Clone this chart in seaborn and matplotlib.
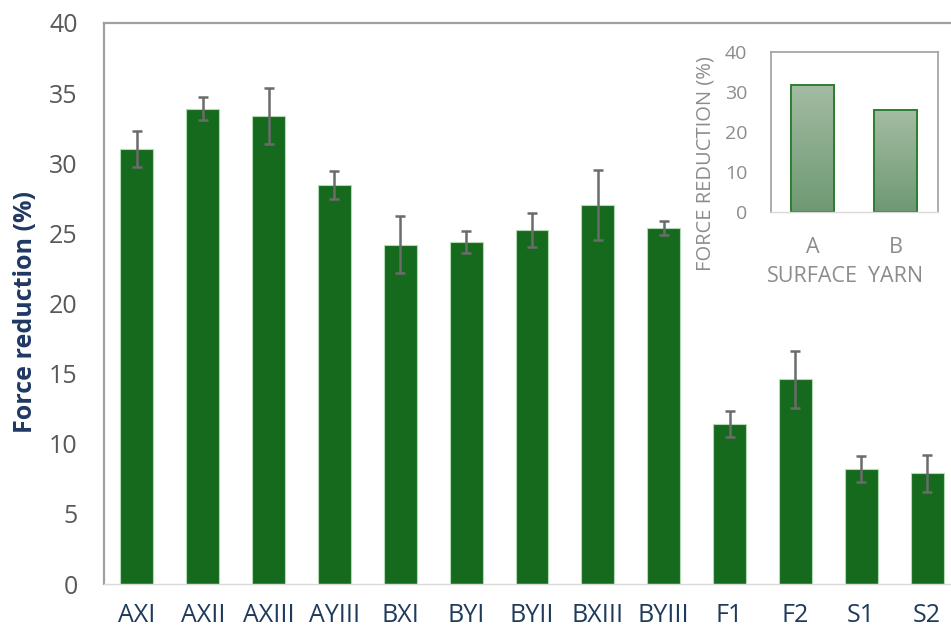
import numpy as np
import pandas as pd
import matplotlib
matplotlib.use("Agg")
import matplotlib.pyplot as plt
import seaborn as sns

# Force reduction per sample (mean and error)
samples = ["AXI", "AXII", "AXIII", "AYIII", "BXI", "BYI", "BYII", "BXIII", "BYIII",
           "F1", "F2", "S1", "S2"]
reduction = [31.0, 33.9, 33.4, 28.45, 24.2, 24.4, 25.25, 27.0, 25.4,
             11.4, 14.6, 8.2, 7.9]
reduction_err = [1.3, 0.85, 2.0, 1.0, 2.05, 0.8, 1.2, 2.5, 0.5,
                 0.92, 2.04, 0.96, 1.33]

# Group averages for the inset
groups = ["A\nSURFACE", "B\nYARN"]
group_reduction = [31.8, 25.4]

main_ticks = [0, 5, 10, 15, 20, 25, 30, 35, 40]
inset_ticks = [0, 10, 20, 30, 40]

sns.set_theme(style="white")
plt.rcParams["font.family"] = ["Open Sans", "DejaVu Sans"]

fig = plt.figure(figsize=(9.51, 6.32), dpi=100)
fig.patch.set_facecolor("white")

ax = fig.add_axes([104 / 951, 1 - 584 / 632, (960 - 104) / 951, (584 - 23) / 632])
df = pd.DataFrame({"sample": samples, "reduction": reduction})
sns.barplot(data=df, x="sample", y="reduction", color="#156a1e", saturation=1,
            width=0.5, errorbar=None, edgecolor="#b5d9b5", linewidth=0.8, ax=ax)
ax.errorbar(np.arange(len(samples)), reduction, yerr=reduction_err, fmt="none",
            ecolor="#6b6b6b", elinewidth=1.8, capsize=3.6, capthick=1.8, zorder=5)

ax.set_xlim(-0.5, len(samples) - 0.5)
ax.set_ylim(0, 40)
ax.set_yticks(main_ticks)
ax.set_yticklabels([str(t) for t in main_ticks])
ax.set_xlabel("")
ax.set_ylabel("Force reduction (%)", fontsize=18, fontweight="bold", color="#1f3864")
ax.yaxis.set_label_coords(-0.077, 0.485)
ax.tick_params(axis="y", length=0, pad=19, labelsize=18, labelcolor="#595959")
ax.tick_params(axis="x", length=0, pad=14, labelsize=18, labelcolor="#1f3a5c")
for side in ["left", "top"]:
    ax.spines[side].set_color("#a0a0a0")
    ax.spines[side].set_linewidth(1.6)
ax.spines["bottom"].set_color("#d9d9d9")
ax.spines["bottom"].set_linewidth(1.0)
ax.spines["right"].set_visible(False)

# Inset: averages by group
ins = fig.add_axes([770.7 / 951, 1 - 211.7 / 632, (937.5 - 770.7) / 951, 160 / 632])
gdf = pd.DataFrame({"group": groups, "reduction": group_reduction})
sns.barplot(data=gdf, x="group", y="reduction", color="#8aab8b", saturation=1,
            width=0.52, errorbar=None, edgecolor="#2e7d32", linewidth=1.4, ax=ins)
ins.set_xlim(-0.5, 1.5)
ins.set_ylim(0, 40)

# vertical gradient fill inside the inset bars
grad = np.linspace(0, 1, 256).reshape(-1, 1)
cmap = matplotlib.colors.LinearSegmentedColormap.from_list("g", ["#6e9972", "#a3bca3"])
for patch in ins.patches:
    x0, y0 = patch.get_x(), patch.get_y()
    w, h = patch.get_width(), patch.get_height()
    im = ins.imshow(grad, extent=[x0, x0 + w, y0, y0 + h], origin="lower", cmap=cmap,
                    aspect="auto", zorder=patch.get_zorder() - 0.1)
    im.set_clip_path(patch)
    patch.set_facecolor("none")
    patch.set_zorder(patch.get_zorder() + 0.2)
ins.set_xlim(-0.5, 1.5)
ins.set_ylim(0, 40)
ins.set_yticks(inset_ticks)
ins.set_yticklabels([str(t) for t in inset_ticks])
ins.set_xlabel("")
ins.set_ylabel("FORCE REDUCTION (%)", fontsize=14.5, color="#8c8c8c")
ins.yaxis.set_label_coords(-0.33, 0.30)
ins.tick_params(axis="y", length=0, pad=17, labelsize=14, labelcolor="#8c8c8c")
ins.tick_params(axis="x", length=0, pad=18, labelsize=15.5, labelcolor="#8c8c8c")
for lbl in ins.get_xticklabels():
    lbl.set_linespacing(1.5)
for side in ["left", "top", "right"]:
    ins.spines[side].set_color("#a6a6a6")
    ins.spines[side].set_linewidth(1.3)
ins.spines["bottom"].set_color("#d9d9d9")
ins.spines["bottom"].set_linewidth(1.0)

fig.savefig("out.png", dpi=100, facecolor="white")
